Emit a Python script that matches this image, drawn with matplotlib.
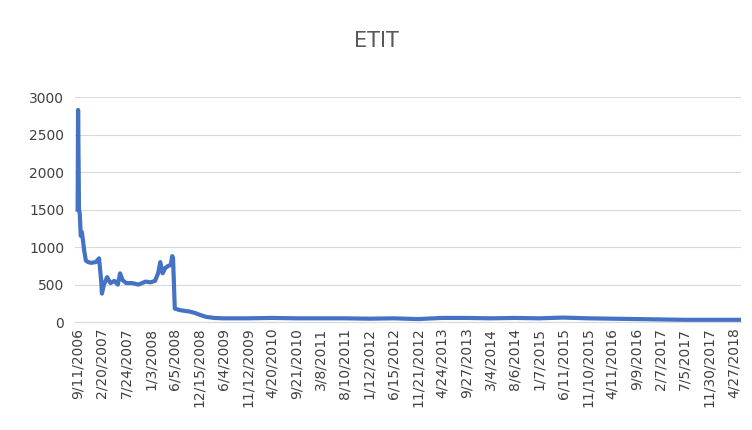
import matplotlib
matplotlib.use("Agg")
import matplotlib.pyplot as plt
import numpy as np
import pandas as pd

dates = ["2006-09-11","2006-09-14","2006-09-18","2006-09-20","2006-09-25","2006-10-02","2006-10-09","2006-10-16",
         "2006-10-25","2006-11-05","2006-11-20","2006-12-10","2007-01-10","2007-02-01","2007-02-15","2007-02-20",
         "2007-03-05","2007-03-25","2007-04-15","2007-05-10","2007-06-01","2007-06-15","2007-07-01","2007-07-24",
         "2007-09-01","2007-10-15","2007-12-01","2008-01-03","2008-02-01","2008-02-20","2008-03-05","2008-03-20",
         "2008-04-05","2008-04-25","2008-05-10","2008-05-20","2008-05-25","2008-06-05","2008-07-15","2008-08-20",
         "2008-10-01","2008-11-15","2008-12-15","2009-02-01","2009-04-01","2009-06-04","2009-11-12","2010-04-20",
         "2010-09-21","2011-03-08","2011-08-10","2012-01-12","2012-06-15","2012-11-21","2013-04-24","2013-09-27",
         "2014-03-04","2014-08-06","2015-01-07","2015-06-11","2015-11-10","2016-04-11","2016-09-09","2017-02-07",
         "2017-07-05","2017-11-30","2018-04-27","2018-09-15"]
values = [1500, 2830, 2000, 1500, 1450, 1150, 1200, 1100,
          950, 820, 800, 790, 800, 850, 550, 380,
          500, 600, 520, 550, 500, 650, 560, 520,
          520, 500, 540, 530, 550, 650, 800, 650,
          720, 750, 760, 880, 850, 180, 160, 150,
          140, 120, 100, 70, 55, 50, 50, 55,
          50, 50, 50, 45, 50, 40, 55, 55,
          50, 55, 50, 60, 50, 45, 40, 35,
          30, 30, 30, 30]
tick_labels = ["9/11/2006","2/20/2007","7/24/2007","1/3/2008","6/5/2008","12/15/2008","6/4/2009","11/12/2009",
               "4/20/2010","9/21/2010","3/8/2011","8/10/2011","1/12/2012","6/15/2012","11/21/2012","4/24/2013",
               "9/27/2013","3/4/2014","8/6/2014","1/7/2015","6/11/2015","11/10/2015","4/11/2016","9/9/2016",
               "2/7/2017","7/5/2017","11/30/2017","4/27/2018"]

# category-style axis: tick dates are evenly spaced (trading-day axis)
tick_days = pd.to_datetime(tick_labels, format="%m/%d/%Y").map(pd.Timestamp.toordinal).values.astype(float)
data_days = pd.to_datetime(dates).map(pd.Timestamp.toordinal).values.astype(float)
tick_pos = np.arange(len(tick_labels), dtype=float)
step = (tick_pos[-1] - tick_pos[-2]) / (tick_days[-1] - tick_days[-2])
x = np.interp(data_days, tick_days, tick_pos)
x = np.where(data_days > tick_days[-1], tick_pos[-1] + (data_days - tick_days[-1]) * step, x)

fig = plt.figure(figsize=(7.52, 4.30), dpi=100)
ax = fig.add_axes([0.1, 0.251, 0.885, 0.523])
ax.plot(x, values, color="#4472C4", lw=3, solid_joinstyle="round")
ax.set_ylim(0, 3000)
ax.set_yticks(range(0, 3001, 500))
ax.set_xlim(-0.1, tick_pos[-1] + 0.3)
ax.set_xticks(tick_pos)
ax.set_xticklabels(tick_labels, rotation=90, fontsize=10, color="#404040")
ax.tick_params(axis="y", labelsize=10, colors="#404040", length=0, pad=8)
ax.tick_params(axis="x", length=0, pad=4)
ax.grid(axis="y", color="#D9D9D9", lw=0.8)
ax.set_axisbelow(True)
for s in ["top", "right", "left"]:
    ax.spines[s].set_visible(False)
ax.spines["bottom"].set_color("#D9D9D9")
fig.text(0.5, 0.905, "ETIT", ha="center", va="center", fontsize=15, color="#595959")
fig.savefig("out.png", dpi=100)
